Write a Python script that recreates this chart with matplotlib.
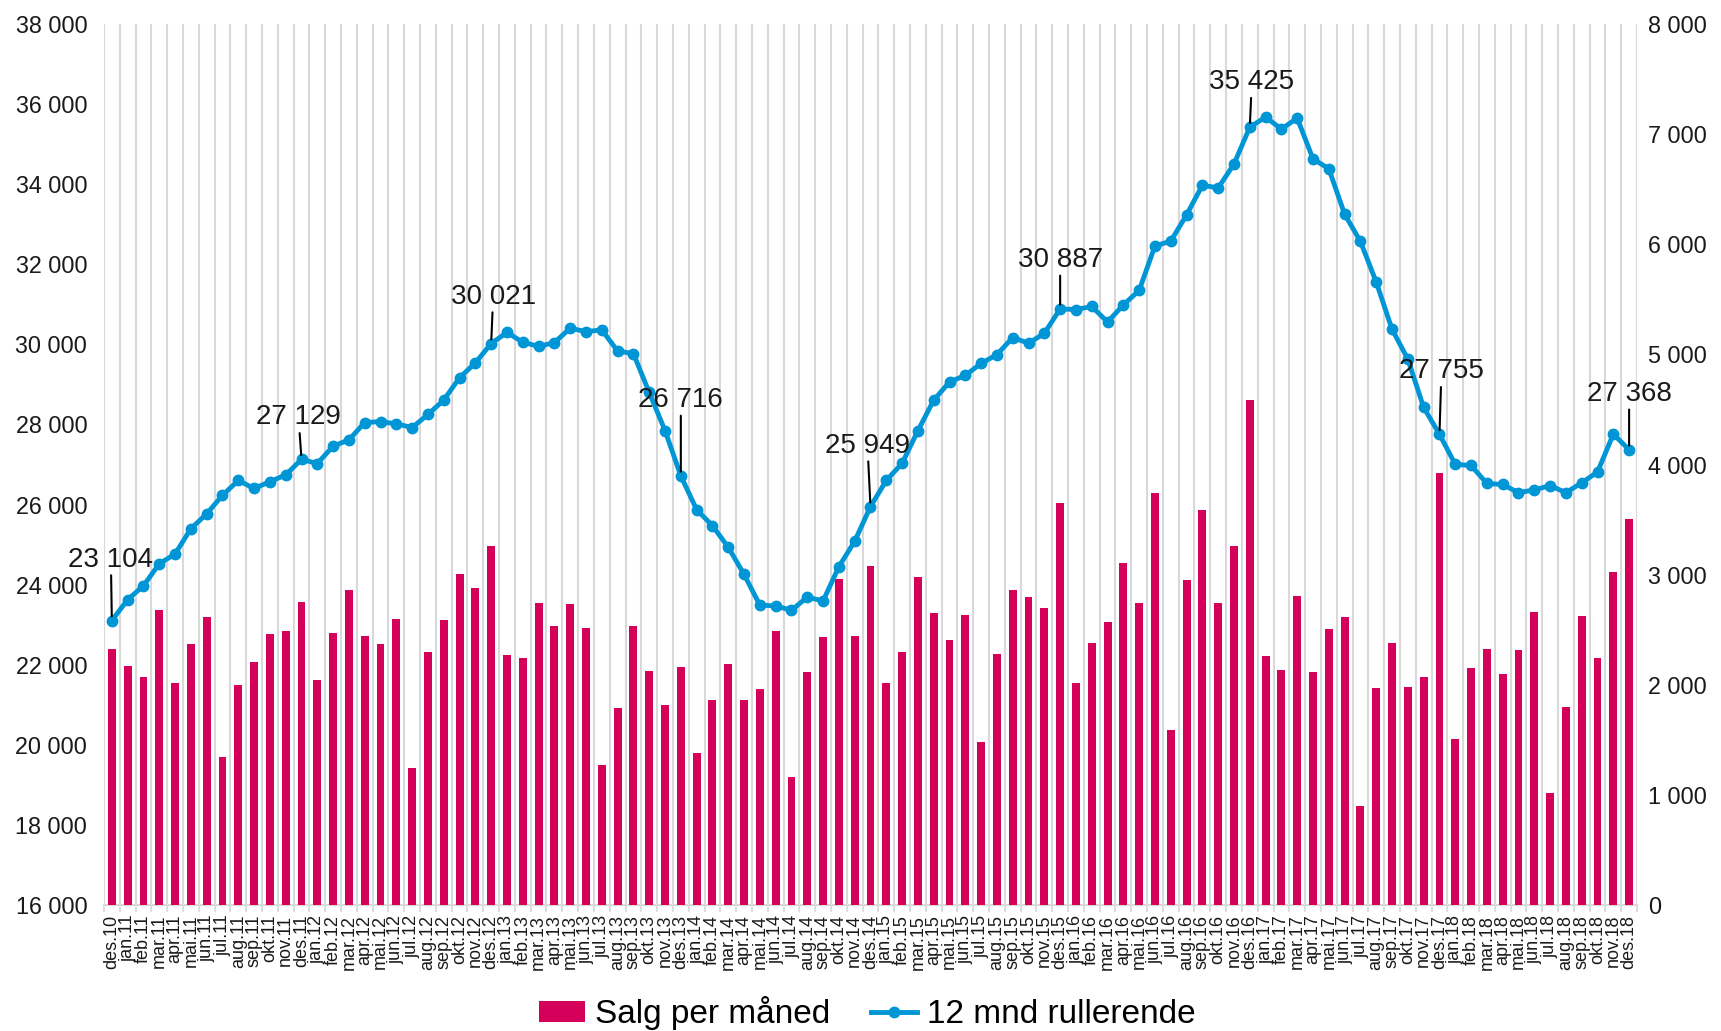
import matplotlib.pyplot as plt
from matplotlib.lines import Line2D
from matplotlib.patches import Patch
from matplotlib.ticker import FuncFormatter

plt.rcParams['font.family'] = ['Liberation Sans', 'DejaVu Sans']

# Etiketter for månedene (des.10 - des.18)
maaneder = ['jan', 'feb', 'mar', 'apr', 'mai', 'jun', 'jul', 'aug', 'sep', 'okt', 'nov', 'des']
etiketter = ['des.10'] + [f'{m}.{aar}' for aar in range(11, 19) for m in maaneder]

# Salg per måned (høyre akse)
salg = [2327, 2170, 2070, 2680, 2016, 2369, 2619, 1340, 1997, 2204, 2461, 2492,
        2753, 2047, 2473, 2857, 2442, 2369, 2600, 1248, 2296, 2588, 3003, 2880,
        3264, 2273, 2243, 2742, 2534, 2730, 2511, 1275, 1786, 2534, 2127, 1812,
        2158, 1379, 1866, 2189, 1866, 1958, 2488, 1160, 2120, 2435, 2961, 2442,
        3080, 2016, 2298, 2975, 2656, 2406, 2632, 1481, 2280, 2858, 2801, 2693,
        3652, 2016, 2383, 2566, 3102, 2745, 3737, 1593, 2952, 3586, 2745, 3257,
        4583, 2261, 2133, 2803, 2119, 2503, 2616, 897, 1971, 2380, 1981, 2069,
        3922, 1508, 2148, 2326, 2094, 2316, 2665, 1020, 1798, 2626, 2242, 3020,
        3508]

# 12 mnd rullerende (venstre akse)
rullerende = [23104, 23624, 23973, 24522, 24765, 25398, 25768, 26233, 26602, 26402, 26571, 26740,
              27129, 27025, 27458, 27616, 28049, 28070, 28017, 27922, 28250, 28609, 29168, 29538,
              30021, 30298, 30055, 29950, 30045, 30404, 30319, 30362, 29834, 29770, 28800, 27848,
              26716, 25874, 25472, 24934, 24258, 23487, 23470, 23360, 23688, 23593, 24448, 25082,
              25949, 26603, 27029, 27844, 28607, 29059, 29227, 29525, 29745, 30171, 30029, 30275,
              30887, 30870, 30947, 30559, 30986, 31348, 32460, 32576, 33236, 33973, 33908, 34503,
              35425, 35675, 35377, 35648, 34631, 34387, 33249, 32572, 31555, 30377, 29631, 28425,
              27755, 27003, 26976, 26528, 26501, 26298, 26366, 26474, 26298, 26542, 26813, 27760,
              27368]

# Punkter med verdi-etikett (desember hvert år) og forskyvning av teksten i piksler
merket = [0, 12, 24, 36, 48, 60, 72, 84, 96]
forskyvning = [(-1, 61), (-3, 42), (2, 47), (0, 76), (-3, 61), (0, 49), (2, 45), (2, 63), (0, 56)]

rosa = '#D5005A'
blaa = '#0096D6'
tekst = '#1a1a1a'


def mellomrom(v, pos=None):
    return f'{v:,.0f}'.replace(',', ' ')


x = list(range(len(etiketter)))

fig = plt.figure(figsize=(17.21, 10.31), dpi=100)
ax = fig.add_axes([0.0604, 0.1222, 0.8908, 0.8545])
ax2 = ax.twinx()

# Søyler på høyre akse
ax.bar(x, salg, width=0.5, color=rosa, zorder=3)
ax.set_ylim(0, 8000)
ax.set_yticks(range(0, 8001, 1000))
ax.yaxis.set_major_formatter(FuncFormatter(mellomrom))
ax.yaxis.tick_right()
ax.tick_params(axis='y', length=0, pad=8, labelsize=16.8, labelcolor=tekst)

ax.set_xlim(-0.5, len(x) - 0.5)
ax.set_xticks(x)
ax.set_xticklabels(etiketter, rotation=90, fontsize=13, color=tekst)
ax.set_xticks([i - 0.5 for i in range(len(x) + 1)], minor=True)
ax.tick_params(axis='x', which='major', length=0, pad=7)
ax.tick_params(axis='x', which='minor', length=5, color='#d9d9d9', width=1.2)
ax.grid(axis='x', which='minor', color='#d9d9d9', linewidth=1.5, zorder=0)
ax.set_axisbelow(True)

for s in ['top', 'left', 'right']:
    ax.spines[s].set_visible(False)
    ax2.spines[s].set_visible(False)
ax.spines['bottom'].set_color('#d9d9d9')
ax.spines['bottom'].set_linewidth(1.5)
ax2.spines['bottom'].set_visible(False)

# Linje på venstre akse
ax2.plot(x, rullerende, color=blaa, linewidth=3.5, marker='o', markersize=7.5, zorder=4)
ax2.set_ylim(16000, 38000)
ax2.set_yticks(range(16000, 38001, 2000))
ax2.yaxis.set_major_formatter(FuncFormatter(mellomrom))
ax2.yaxis.tick_left()
ax2.tick_params(axis='y', length=0, pad=12, labelsize=16.8, labelcolor=tekst)

for i, (dx, dy) in zip(merket, forskyvning):
    ax2.annotate(mellomrom(rullerende[i]), xy=(i, rullerende[i]), xytext=(dx, dy),
                 textcoords='offset pixels', ha='center', va='center',
                 fontsize=20, color=tekst,
                 arrowprops=dict(arrowstyle='-', color='black', linewidth=1.5,
                                 shrinkA=0, shrinkB=3),
                 zorder=5)

handles = [Patch(facecolor=rosa), Line2D([0], [0], color=blaa, linewidth=3.5, marker='o', markersize=7.5)]
fig.legend(handles, ['Salg per måned', '12 mnd rullerende'], loc='lower center',
           bbox_to_anchor=(0.504, -0.028), ncol=2, frameon=False, fontsize=24,
           handlelength=1.4, handleheight=0.6, columnspacing=1.2, handletextpad=0.3)

fig.savefig('out.png', dpi=100)
